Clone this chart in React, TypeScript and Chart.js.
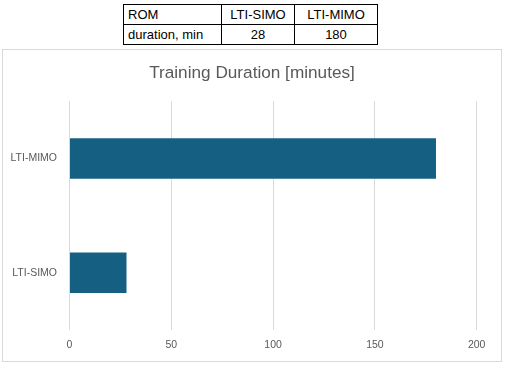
import React, { useEffect, useRef } from "react";
import { Chart, registerables } from "chart.js";

Chart.register(...registerables);

const tableHeader = ["ROM", "LTI-SIMO", "LTI-MIMO"];
const rowLabel = "duration, min";
const categories = ["LTI-SIMO", "LTI-MIMO"];
const durations = [28, 180];
const chartTitle = "Training Duration [minutes]";
const xMin = 0;
const xMax = 200;
const xStep = 50;

const FONT = "'Liberation Sans', Arial, sans-serif";

export default function App() {
  const canvasRef = useRef<HTMLCanvasElement | null>(null);

  useEffect(() => {
    if (!canvasRef.current) return;
    const chart = new Chart(canvasRef.current, {
      type: "bar",
      data: {
        labels: categories,
        datasets: [
          {
            data: durations,
            backgroundColor: "#156082",
            borderWidth: 0,
            categoryPercentage: 1,
            barPercentage: 0.355,
          },
        ],
      },
      options: {
        indexAxis: "y",
        responsive: false,
        animation: false,
        devicePixelRatio: 1,
        layout: { padding: { left: 0, right: 0, top: 0, bottom: 0 } },
        plugins: {
          legend: { display: false },
          tooltip: { enabled: false },
          title: {
            display: true,
            text: chartTitle,
            color: "#595959",
            font: { family: FONT, size: 17.2, weight: "normal" },
            padding: { top: 12.8, bottom: 17.8 },
          },
        },
        scales: {
          x: {
            min: xMin,
            max: xMax,
            ticks: {
              stepSize: xStep,
              color: "#595959",
              font: { family: FONT, size: 10.5 },
              padding: 9,
            },
            grid: { color: "#d9d9d9", lineWidth: 1, drawTicks: false },
            border: { display: false },
            afterFit: (s: any) => {
              s.height = 31;
            },
          },
          y: {
            reverse: true,
            ticks: {
              color: "#595959",
              font: { family: FONT, size: 10.5 },
              padding: 12.5,
            },
            grid: { display: false, drawTicks: false },
            border: { display: false },
            afterFit: (s: any) => {
              s.width = 66.5;
            },
          },
          yRight: {
            axis: "y",
            type: "linear",
            position: "right",
            display: true,
            ticks: { display: false },
            grid: { display: false, drawTicks: false },
            border: { display: false },
            afterFit: (s: any) => {
              s.width = 24.3;
            },
          },
        },
      },
    });
    return () => chart.destroy();
  }, []);

  const cell: React.CSSProperties = {
    border: "1px solid #000",
    padding: "0 4px",
    height: 19,
    lineHeight: "19px",
    fontFamily: FONT,
    fontSize: 13,
    color: "#000",
    whiteSpace: "nowrap",
    overflow: "hidden",
  };

  return (
    <div
      style={{
        position: "fixed",
        left: 0,
        top: 0,
        width: 507,
        height: 367,
        background: "#fff",
        overflow: "hidden",
      }}
    >
      <table
        style={{
          position: "absolute",
          left: 123,
          top: 4,
          borderCollapse: "collapse",
          tableLayout: "fixed",
          width: 254,
        }}
      >
        <colgroup>
          <col style={{ width: 98 }} />
          <col style={{ width: 73 }} />
          <col style={{ width: 83 }} />
        </colgroup>
        <tbody>
          <tr>
            {tableHeader.map((h, i) => (
              <td key={i} style={{ ...cell, textAlign: i === 0 ? "left" : "center" }}>
                {h}
              </td>
            ))}
          </tr>
          <tr>
            <td style={{ ...cell, textAlign: "left" }}>{rowLabel}</td>
            {durations.map((v, i) => (
              <td key={i} style={{ ...cell, textAlign: "center" }}>
                {v}
              </td>
            ))}
          </tr>
        </tbody>
      </table>
      <div
        style={{
          position: "absolute",
          left: 2,
          top: 49,
          width: 500,
          height: 313,
          boxSizing: "border-box",
          border: "1px solid #d9d9d9",
        }}
      >
        <canvas
          ref={canvasRef}
          width={498}
          height={311}
          style={{ display: "block", width: 498, height: 311 }}
        />
      </div>
    </div>
  );
}
